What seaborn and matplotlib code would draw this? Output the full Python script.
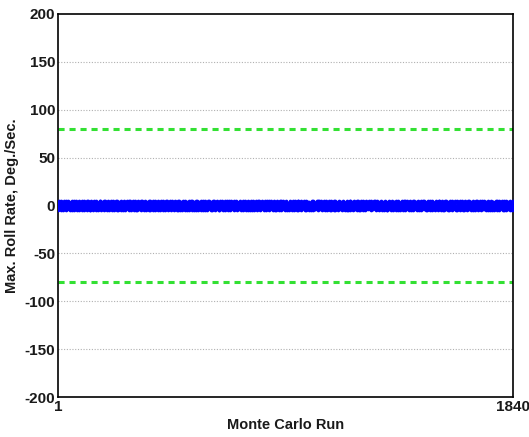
import numpy as np
import pandas as pd
import matplotlib
matplotlib.use("Agg")
import matplotlib.pyplot as plt
import seaborn as sns

# Max roll rate per Monte Carlo run, coded as digits d -> (d - 4.5) deg/sec
rows = [
    "7302948156620397418523096471825306947182",
    "3958261407738150926483719502648173925064",
    "8147390625514826307941852069374815260739",
    "2694815370086927413568203947158620397415",
    "5036172849927150384612849370516293847106",
    "1482907356643819207548396120475839261740",
    "9260471835218073946257081936427105836492",
    "6715382904479562018337495206183749025618",
    "0398246175861304792569813740526981374052",
    "4827613059925073861447290358164902735816",
    "3150984726708461935242879601537486092713",
    "7964203581132597046829316475802973164580",
    "2586719034694032817558104923675401892367",
    "8031456297207861459303947582016834759201",
    "5719832046581436092716285043971852690437",
    "1247095638329751480676038921457390265148",
    "6893547120043682917521497630825613974082",
    "4362918705956207348189853216470928736154",
    "9508361472271849635034276189503741968250",
    "3174852960618530274945810637294058261739",
    "7825014396492761803568162947385120493876",
    "0639278514835904172627953148061739524081",
    "5401793862164085927393047581629847163502",
    "2958430617750612849384716203958523079418",
    "8163502749029347561859380426175364928507",
    "4790615283387258064120564879231095843162",
    "1527368940943869513746298153078472316905",
    "6384920157516794230887130964582751690234",
    "9041587632085237948152648317209635187460",
    "3752146089672403518969027541863208475913",
    "7218634905138951062430795284136970245386",
    "0865391724465187329512849650371584139627",
    "5496073812971635480236513798420463852701",
    "2139758460208742613957284015639127508364",
    "8673402195653029874111406873295841620539",
    "4208916537392467150885937120546358097142",
    "9345281670817596324027618439057216483975",
    "1986735402540831972663140957382709561824",
    "6512048397286314059749853627104193726058",
    "3074692158913258706432075918463570948217",
    "7653819024401975382856294031586942130675",
    "0829347561674508213919637285014826357490",
    "5314760892235496107843751692840358964123",
    "2971583406186723549074285310697514082386",
    "8406215739548061932765910248373689241570",
    "4150972863097385416288364759021273015849",
]
roll_rate = [int(c) - 4.5 for c in "".join(rows)]
runs = list(range(1, len(roll_rate) + 1))
limits = [80, -80]
y_ticks = [-200, -150, -100, -50, 0, 50, 100, 150, 200]
x_ticks = [1, 1840]

df = pd.DataFrame({"run": runs, "rate": roll_rate})

sns.set_style("white")
plt.rcParams["font.family"] = ["Liberation Sans", "DejaVu Sans"]

fig = plt.figure(figsize=(5.29, 4.37), dpi=100)
ax = fig.add_axes([0.1096, 0.0915, 0.8602, 0.8765])

for y in y_ticks[1:-1]:
    ax.axhline(y, color="#b0b0b0", lw=0.8, ls=(0, (1, 1.5)), zorder=0)

sns.scatterplot(data=df, x="run", y="rate", ax=ax, color="#0000ff",
                s=7, linewidth=0, marker="o", legend=False, zorder=3)

for lim in limits:
    sns.lineplot(x=[x_ticks[0], x_ticks[1]], y=[lim, lim], ax=ax,
                 color="#33e033", lw=2.2, dashes=False, zorder=2)
    ax.lines[-1].set_linestyle((0, (2.0, 1.6)))

ax.set_xlim(x_ticks[0], x_ticks[1])
ax.set_ylim(-200, 200)
ax.set_xticks(x_ticks)
ax.set_yticks(y_ticks)
ax.set_xticklabels([str(v) for v in x_ticks], fontsize=11, fontweight="bold", color="#1a1a1a")
ax.set_yticklabels([str(v) for v in y_ticks], fontsize=11, fontweight="bold", color="#1a1a1a")
ax.tick_params(direction="in", length=4, width=1, pad=2)
for s in ax.spines.values():
    s.set_visible(True)
    s.set_color("black")
    s.set_linewidth(1.2)

ax.set_xlabel("Monte Carlo Run", fontsize=10.5, fontweight="bold", labelpad=3, color="#1a1a1a")
ax.set_ylabel("Max. Roll Rate, Deg./Sec.", fontsize=10.5, fontweight="bold", labelpad=4, color="#1a1a1a")

fig.savefig("out.png", dpi=100)
